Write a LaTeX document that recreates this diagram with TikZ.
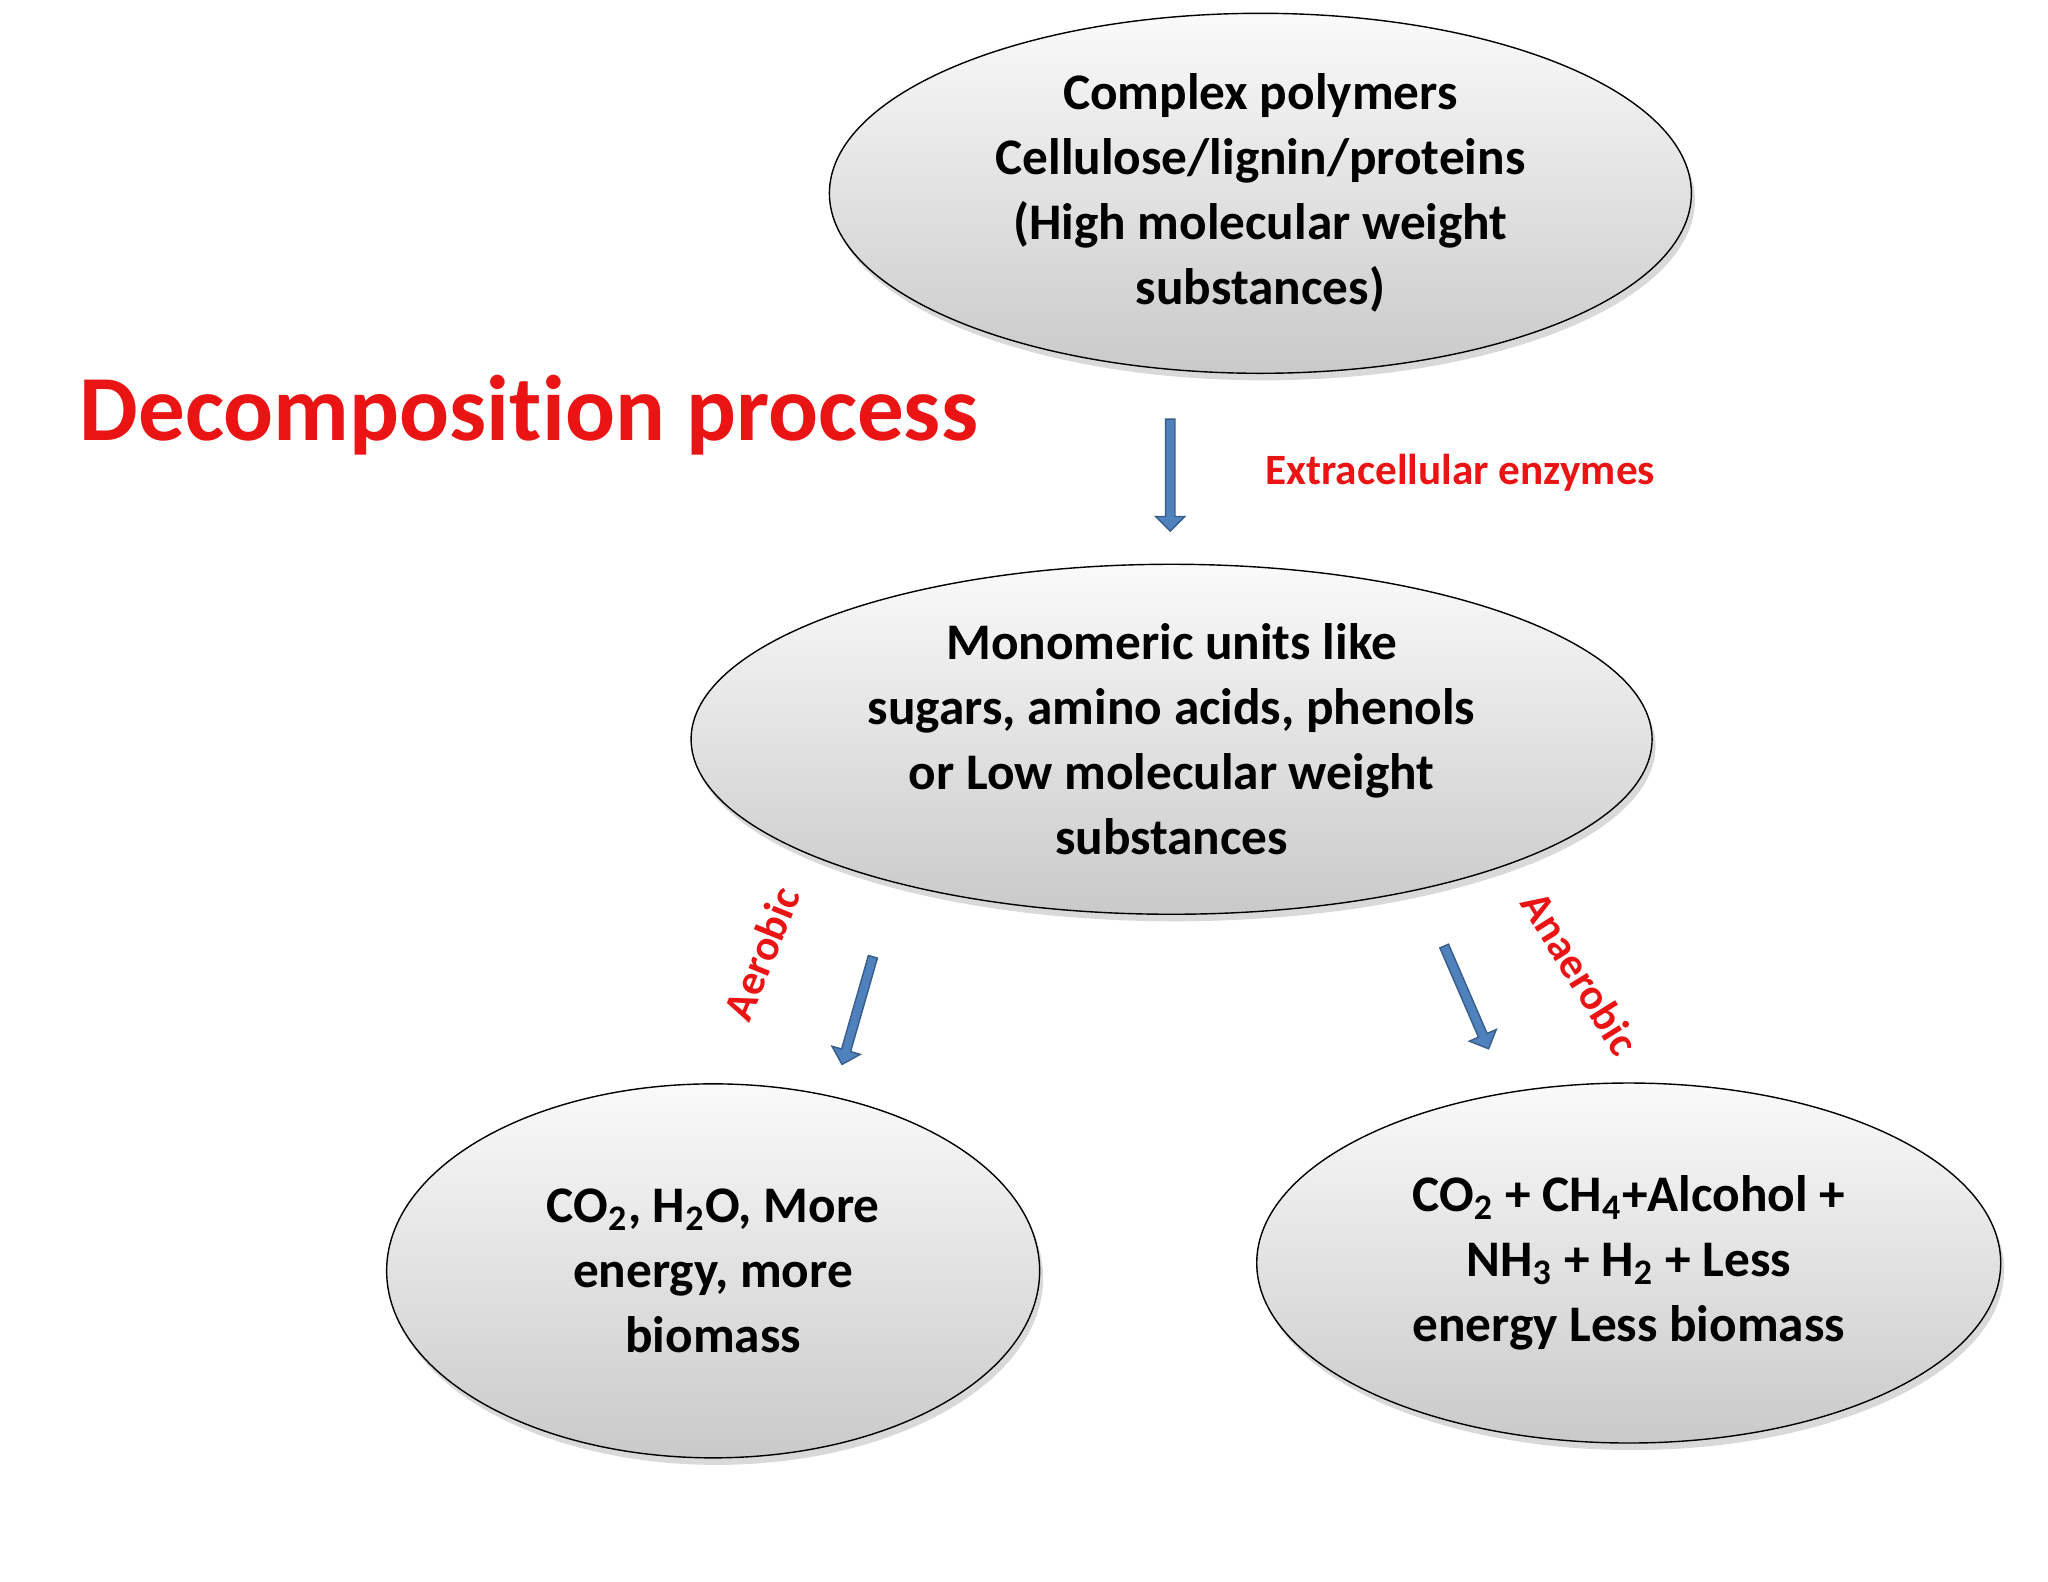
\documentclass[tikz,border=0pt]{standalone}
\usepackage{fontspec}
\setmainfont{Carlito}[Ligatures=NoCommon]
\usetikzlibrary{shapes.geometric, shapes.arrows, shadows}

\definecolor{arrowblue}{RGB}{79,129,189}
\definecolor{arrowedge}{RGB}{56,93,138}
\definecolor{labelred}{RGB}{235,20,20}

\begin{document}
\begin{tikzpicture}[
	x=0.01306cm, y=-0.01306cm,
	blob/.style={ellipse, draw, thin, top color=gray!4, bottom color=gray!42,
		drop shadow={shadow xshift=1pt, shadow yshift=-2pt, opacity=0.3},
		align=center, font=\fontsize{14.6}{18.5}\selectfont\bfseries, inner sep=0pt},
	blockarrow/.style={single arrow, draw=arrowedge, fill=arrowblue,
		inner xsep=0pt, inner ysep=0.04cm, font=\tiny,
		single arrow head extend=0.1cm,
		single arrow head indent=0pt, minimum height=1.12cm},
	tag/.style={text=labelred, font=\fontsize{12.3}{14}\selectfont\bfseries}
	]
	\useasboundingbox (0,0) rectangle (1568,1211);

	% Define nodes
	\node (title) [text=labelred, font=\fontsize{26.5}{30}\selectfont\bfseries] at (405,318) {Decomposition process};
	\node (polymers) [blob, minimum width=8.62cm, minimum height=3.6cm] at (965,148)
		{Complex polymers\\Cellulose/lignin/proteins\\(High molecular weight\\substances)};
	\node (monomers) [blob, minimum width=9.61cm, minimum height=3.5cm] at (897,566)
		{Monomeric units like\\sugars, amino acids, phenols\\or Low molecular weight\\substances};
	\node (aerobic) [blob, minimum width=6.53cm, minimum height=3.74cm] at (546,973)
		{CO\textsubscript{2}, H\textsubscript{2}O, More\\energy, more\\biomass};
	\node (anaerobic) [blob, minimum width=7.44cm, minimum height=3.6cm] at (1247,967)
		{CO\textsubscript{2} + CH\textsubscript{4}+Alcohol +\\NH\textsubscript{3} + H\textsubscript{2} + Less\\energy Less biomass};

	% Draw arrows
	\node (down) [blockarrow, rotate=-90] at (896,362) {};
	\node (left) [blockarrow, rotate=-106] at (657,772) {};
	\node (right) [blockarrow, rotate=-66.6] at (1122,762) {};

	% Labels
	\node (enzymes) [tag] at (1118,362) {Extracellular enzymes};
	\node (aero) [tag, rotate=68] at (583,730) {Aerobic};
	\node (anaero) [tag, rotate=-58] at (1210,745) {Anaerobic};
\end{tikzpicture}
\end{document}
